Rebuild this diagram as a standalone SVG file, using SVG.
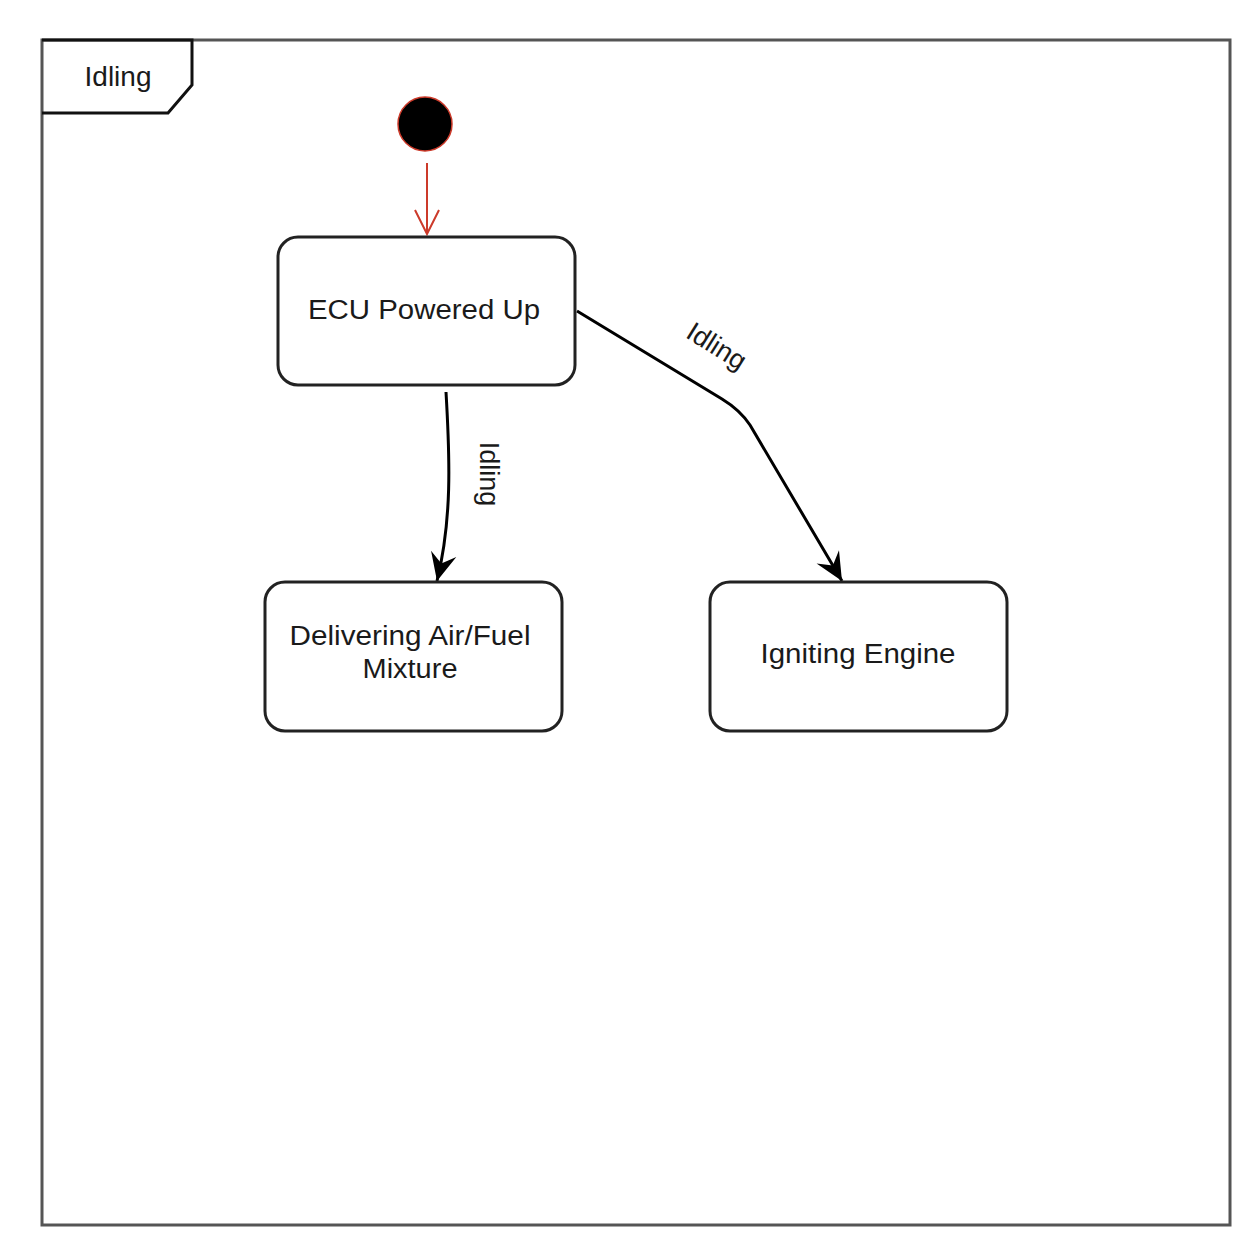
<svg xmlns="http://www.w3.org/2000/svg" width="1250" height="1258" viewBox="0 0 1250 1258">
<style>
  .lbl{font-family:"Liberation Sans",Arial,sans-serif;font-size:27px;fill:#1a1a1a;text-anchor:middle}
  .state{fill:#ffffff;stroke:#222222;stroke-width:3}
  .edge{fill:none;stroke:#000000;stroke-width:3}
</style>
<defs>
  <marker id="arrowBlack" markerUnits="userSpaceOnUse" markerWidth="40" markerHeight="40" viewBox="-30 -20 40 40" refX="0" refY="0" orient="auto">
    <path d="M0,0 L-28,-13 L-18,0 L-28,13 Z" fill="#000000"/>
  </marker>
  <marker id="arrowRed" markerUnits="userSpaceOnUse" markerWidth="40" markerHeight="40" viewBox="-30 -20 40 40" refX="0" refY="0" orient="auto">
    <path d="M-24,-12 L0,0 L-24,12" fill="none" stroke="#cc3a2a" stroke-width="2"/>
  </marker>
</defs>
<rect width="1250" height="1258" fill="#ffffff"/>
<g id="frame">
  <rect x="42" y="40" width="1188" height="1185" fill="none" stroke="#555555" stroke-width="3"/>
  <path d="M42,40 L192,40 L192,85 L168,113 L42,113" fill="none" stroke="#111111" stroke-width="3"/>
  <text class="lbl" x="118" y="86" style="font-size:28px">Idling</text>
</g>
<g id="connectors">
  <line x1="427" y1="163" x2="427" y2="234" stroke="#cc3a2a" stroke-width="2" marker-end="url(#arrowRed)"/>
  <path class="edge" d="M446,392 C450,460 452,520 437,581" marker-end="url(#arrowBlack)"/>
  <path class="edge" d="M577,311 L722,399 Q740,410 750,425 L842,581" marker-end="url(#arrowBlack)"/>
  <text class="lbl" transform="translate(480,474) rotate(90)" x="0" y="0">Idling</text>
  <text class="lbl" transform="translate(716,347) rotate(32)" x="0" y="8">Idling</text>
</g>
<g id="initial">
  <circle cx="425" cy="124" r="27" fill="#000000" stroke="#cc3a2a" stroke-width="1.5"/>
</g>
<g id="ecu">
  <rect class="state" x="278" y="237" width="297" height="148" rx="20"/>
  <text class="lbl" x="424" y="319" textLength="232" lengthAdjust="spacingAndGlyphs">ECU Powered Up</text>
</g>
<g id="delivering">
  <rect class="state" x="265" y="582" width="297" height="149" rx="20"/>
  <text class="lbl" x="410" y="645" textLength="241" lengthAdjust="spacingAndGlyphs">Delivering Air/Fuel</text>
  <text class="lbl" x="410" y="678" textLength="95" lengthAdjust="spacingAndGlyphs">Mixture</text>
</g>
<g id="igniting">
  <rect class="state" x="710" y="582" width="297" height="149" rx="20"/>
  <text class="lbl" x="858" y="663" textLength="195" lengthAdjust="spacingAndGlyphs">Igniting Engine</text>
</g>
</svg>
